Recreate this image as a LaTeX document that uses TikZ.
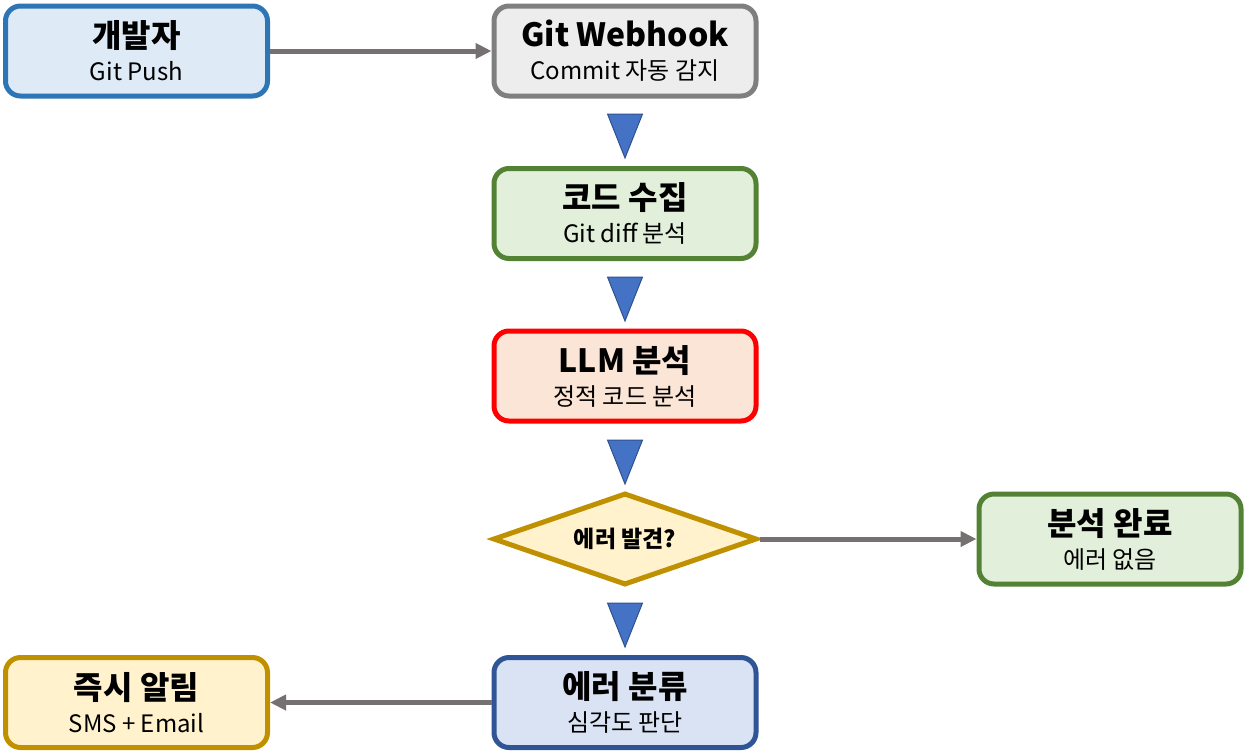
\documentclass[tikz,border=0pt]{standalone}
\usepackage{fontspec}
\setmainfont{Noto Sans CJK KR}
\usetikzlibrary{shapes.geometric,arrows.meta}
\definecolor{bluef}{HTML}{DEEBF7}\definecolor{bluel}{HTML}{2E75B6}
\definecolor{grayf}{HTML}{EDEDED}\definecolor{grayl}{HTML}{7F7F7F}
\definecolor{greenf}{HTML}{E2EFDA}\definecolor{greenl}{HTML}{548235}
\definecolor{redf}{HTML}{FBE5D6}\definecolor{redl}{HTML}{FF0000}
\definecolor{yelf}{HTML}{FFF2CC}\definecolor{yell}{HTML}{BF9000}
\definecolor{navyf}{HTML}{DAE3F3}\definecolor{navyl}{HTML}{2F5597}
\definecolor{tri}{HTML}{4472C4}\definecolor{tril}{HTML}{2F528F}
\definecolor{conn}{HTML}{767171}
\tikzset{
  box/.style={draw, line width=5pt, rounded corners=15pt, minimum width=262pt, minimum height=90pt, inner sep=0pt, align=center, text=black, font=\fontsize{24}{33}\selectfont},
  dia/.style={draw, diamond, line width=5pt, minimum width=264pt, minimum height=92pt, inner sep=0pt},
  dialabel/.style={text=black, font=\bfseries\fontsize{23}{28}\selectfont},
  conn/.style={draw=conn, line width=5pt, -{Triangle[length=16pt,width=15pt]}},
  tri/.style={fill=tri, draw=tril, line width=1pt, line join=miter},
}
\newcommand{\ttl}[1]{{\bfseries\fontsize{32}{38}\selectfont #1}}
\begin{document}
\begin{tikzpicture}[x=1pt,y=-1pt]
\useasboundingbox (0,0) rectangle (1247,753);
\node[box, fill=bluef, draw=bluel] (dev) at (136.5,51) {\ttl{개발자}\\Git Push};
\node[box, fill=grayf, draw=grayl] (hook) at (625,51) {\ttl{Git Webhook}\\Commit 자동 감지};
\node[box, fill=greenf, draw=greenl] (collect) at (625,213.5) {\ttl{코드 수집}\\Git diff 분석};
\node[box, fill=redf, draw=redl] (llm) at (625,376) {\ttl{LLM 분석}\\정적 코드 분석};
\node[dia, fill=yelf, draw=yell] (found) at (625,539) {};
\node[dialabel] (foundtext) at (found.center) {에러 발견?};
\node[box, fill=greenf, draw=greenl] (done) at (1110,539) {\ttl{분석 완료}\\에러 없음};
\node[box, fill=navyf, draw=navyl] (classify) at (625,702.5) {\ttl{에러 분류}\\심각도 판단};
\node[box, fill=yelf, draw=yell] (alert) at (136.5,702.5) {\ttl{즉시 알림}\\SMS + Email};
\draw[conn] (dev.east) -- (hook.west);
\draw[conn] (found.east) -- (done.west);
\draw[conn] (classify.west) -- (alert.east);
\foreach \y in {114,277,440,603}
  \draw[tri] (607.5,\y) -- (642.5,\y) -- (625,\y+44) -- cycle;
\end{tikzpicture}
\end{document}
